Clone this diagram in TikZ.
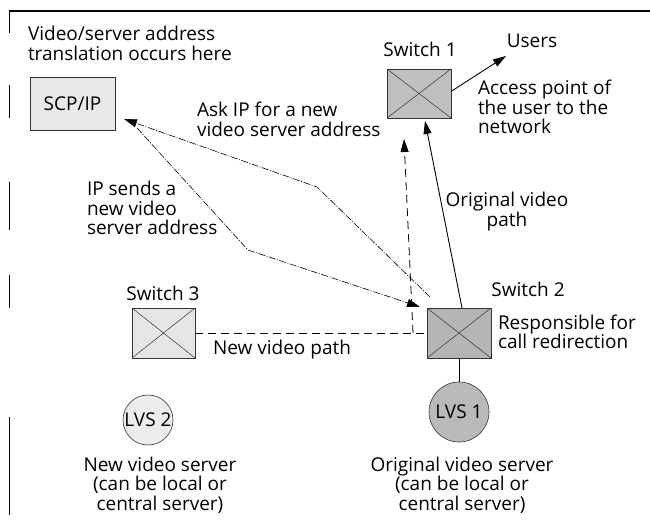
\documentclass[tikz,border=0pt]{standalone}
\usepackage{fontspec}
\setmainfont{Open Sans}
\usetikzlibrary{arrows.meta}
\begin{document}
\begin{tikzpicture}[x=1pt,y=-1pt,
  every node/.style={font=\fontsize{19}{19.5}\selectfont, inner sep=0pt, outer sep=0pt},
  lbl/.style={align=left, anchor=base west},
  clbl/.style={align=center, anchor=base},
  xbox/.style={draw=black!80, line width=0.6pt,
    path picture={\draw[black!80, line width=0.5pt]
      (path picture bounding box.north west) -- (path picture bounding box.south east)
      (path picture bounding box.south west) -- (path picture bounding box.north east);}},
  plainbox/.style={draw=black!80, line width=0.6pt},
  srv/.style={circle, draw=black!80, line width=0.6pt},
  sig/.style={line width=0.6pt, dash pattern=on 7pt off 1.5pt on 1pt off 1.5pt},
  vid/.style={line width=0.9pt},
  newvid/.style={line width=0.8pt, dash pattern=on 8pt off 5pt},
  tip/.style={-{Triangle[length=13pt,width=8pt]}},
]
\useasboundingbox (0,0) rectangle (650,529);

% frame fragments
\draw[line width=1.2pt] (9,11) -- (650,11);
\draw[line width=0.8pt] (9,11) -- (9,33) (9,85) -- (9,118) (9,182) -- (9,230)
  (9,275) -- (9,308) (9,417) -- (9,515);

% nodes
\node[plainbox, fill=gray!18, minimum width=85pt, minimum height=53pt] (scp) at (72.5,103.5) {SCP/IP};
\node[xbox, fill=gray!50, minimum width=64pt, minimum height=49pt] (sw1) at (419,93.5) {};
\node[xbox, fill=gray!20, minimum width=63pt, minimum height=50pt] (sw3) at (163.5,333) {};
\node[xbox, fill=gray!58, minimum width=64pt, minimum height=50pt] (sw2) at (459,333) {};
\node[srv, fill=gray!15, minimum size=50pt] (lvs2) at (148,420) {LVS 2};
\node[srv, fill=gray!55, minimum size=60pt] (lvs1) at (459,412) {LVS 1};

% labels (base anchor = baseline of last line)
\node[lbl] (ltrans) at (28,60.5) {Video/server address\\translation occurs here};
\node[clbl] (lsw1) at (420,57) {Switch 1};
\node[clbl] (users) at (532,48) {Users};
\node[lbl] (laccess) at (478,134) {Access point of\\the user to the\\network};
\node[lbl] (lask) at (197,136.5) {Ask IP for a new\\video server address};
\node[lbl] (lsends) at (87,235) {IP sends a\\new video\\server address};
\node[clbl] (lorig) at (507,226.5) {Original video\\path};
\node[clbl] (lsw2) at (528,296) {Switch 2};
\node[lbl] (lresp) at (498,348.5) {Responsible for\\call redirection};
\node[clbl] (lsw3) at (163,300) {Switch 3};
\node[lbl] (lnewpath) at (213,354) {New video path};
\node[clbl] (lnewsrv) at (160,510) {New video server\\(can be local or\\central server)};
\node[clbl] (lorigsrv) at (462,510) {Original video server\\(can be local or\\central server)};

% coordinates
\coordinate (askstart) at (430,297);
\coordinate (askbend) at (317,187);
\coordinate (askend) at (124,119);
\coordinate (ipstart) at (137,128);
\coordinate (ipbend) at (248,250);
\coordinate (ipend) at (420,307);
\coordinate (origstart) at (462,308);
\coordinate (origend) at (425,121);
\coordinate (junction) at (413,333);
\coordinate (newend) at (404,139);
\coordinate (usersend) at (506,56);

% connectors
\draw[sig, tip] (askstart) -- (askbend) -- (askend);
\draw[sig, tip] (ipstart) -- (ipbend) -- (ipend);
\draw[vid, tip] (origstart) -- (origend);
\draw[newvid] (sw3.east) -- (sw2.west);
\draw[newvid, tip] (junction) -- (newend);
\draw[vid, tip] (sw1.east) ++(0,-2) -- (usersend);
\draw[vid] (sw2.south) -- (lvs1.north);
\end{tikzpicture}
\end{document}
